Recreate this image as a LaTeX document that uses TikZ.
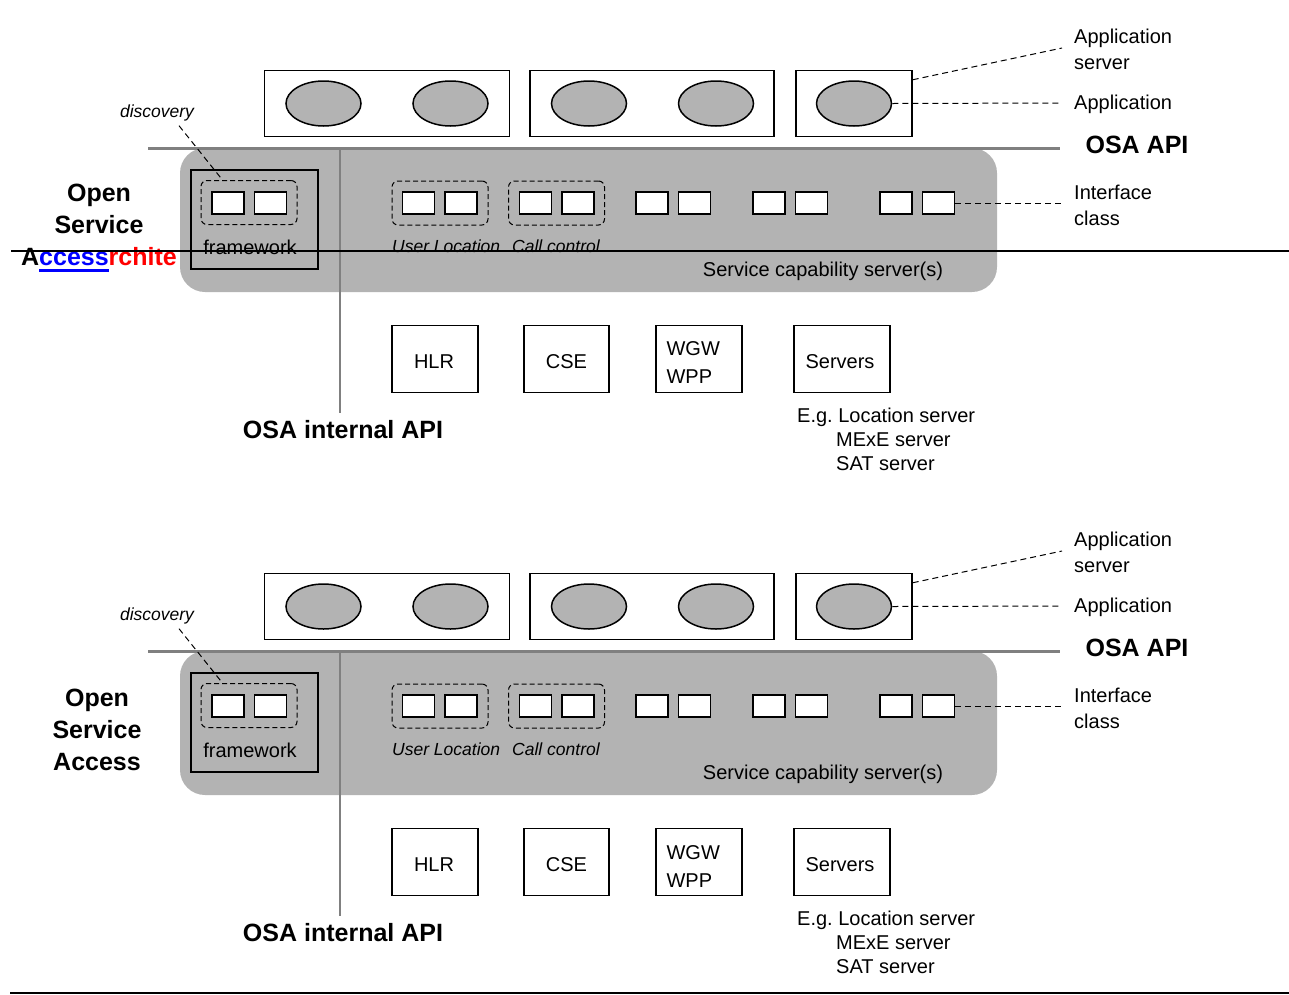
\documentclass[tikz,border=0pt]{standalone}
\usepackage{fontspec}
\setmainfont{Liberation Sans}
\usepackage{xcolor}
\usepackage{tikz}
\usetikzlibrary{shapes.geometric, positioning, calc}
\definecolor{scsgrey}{HTML}{B3B3B3}
\definecolor{apigrey}{HTML}{808080}
\newcommand{\txtnorm}{\fontsize{20}{26}\selectfont}
\newcommand{\txtbold}{\fontsize{25}{32}\selectfont\bfseries}
\newcommand{\txtital}{\fontsize{17.5}{21}\selectfont\itshape}
\newsavebox{\insbox}
\newcommand{\insmark}[1]{\sbox{\insbox}{#1}\rlap{\rule[-6pt]{\wd\insbox}{3pt}}\usebox{\insbox}}
\frenchspacing

\begin{document}
\begin{tikzpicture}[x=1pt, y=-1pt,
    appbox/.style={rectangle, draw=black, line width=1.5pt, minimum height=66pt, inner sep=0pt},
    appl/.style={ellipse, draw=black, line width=1.5pt, fill=scsgrey, minimum width=75pt, minimum height=45pt, inner sep=0pt},
    panel/.style={rectangle, rounded corners=25pt, fill=scsgrey, minimum width=817pt, minimum height=144pt, inner sep=0pt},
    ifc/.style={rectangle, draw=black, line width=1.5pt, fill=white, minimum width=32pt, minimum height=22pt, inner sep=0pt},
    grp/.style={rectangle, rounded corners=6pt, draw=black, line width=1pt, dash pattern=on 5pt off 3pt, minimum width=96pt, minimum height=44pt, inner sep=0pt},
    netbox/.style={rectangle, draw=black, line width=1.2pt, minimum height=67pt, inner sep=0pt, font=\txtnorm},
    boxtext/.style={font=\txtnorm, align=left, inner sep=0pt},
    lbl/.style={font=\txtnorm, align=left, anchor=west, inner sep=0pt},
    bigl/.style={font=\txtbold, align=center, inner sep=0pt},
    itl/.style={font=\txtital, anchor=west, inner sep=0pt},
    dashline/.style={line width=1pt, dash pattern=on 6pt off 4pt},
    apiline/.style={apigrey, line width=3pt}
]
\useasboundingbox (0,0) rectangle (1289,994);

\foreach \dy/\k in {0/t, 503/b} {
\begin{scope}[shift={(0,\dy)}]
% application servers
\node (as1\k) at (387,103.5) [appbox, minimum width=245pt] {};
\node (as2\k) at (652,103.5) [appbox, minimum width=244pt] {};
\node (as3\k) at (854,103.5) [appbox, minimum width=116pt] {};
\node (ap1\k) at (323.5,103.5) [appl] {};
\node (ap2\k) at (450.5,103.5) [appl] {};
\node (ap3\k) at (589,103.5) [appl] {};
\node (ap4\k) at (716,103.5) [appl] {};
\node (ap5\k) at (854,103.5) [appl] {};

% service capability servers
\node (scs\k) at (588.5,220) [panel] {};
\draw[apiline] (148,148) -- (1060,148);
\draw[apigrey, line width=2.5pt] (340,148) -- (340,413);
\node (fw\k) at (254.5,219.5) [rectangle, draw=black, line width=1.2pt, minimum width=127pt, minimum height=99pt] {};
\node (fwgrp\k) at (249,202.5) [grp] {};
\node (fwa\k) at (228,203) [ifc] {};
\node (fwb\k) at (270.5,203) [ifc] {};
\node at (250,247) [font=\txtnorm] {framework};
\node (ulgrp\k) at (440,203) [grp] {};
\node (ula\k) at (418.5,203) [ifc] {};
\node (ulb\k) at (461,203) [ifc] {};
\node (ccgrp\k) at (556.5,203) [grp] {};
\node (cca\k) at (535.5,203) [ifc] {};
\node (ccb\k) at (578,203) [ifc] {};
\node (pr1a\k) at (652,203) [ifc] {};
\node (pr1b\k) at (694.5,203) [ifc] {};
\node (pr2a\k) at (769,203) [ifc] {};
\node (pr2b\k) at (811.5,203) [ifc] {};
\node (pr3a\k) at (896,203) [ifc] {};
\node (pr3b\k) at (938.5,203) [ifc] {};
\node (ul\k) at (392,246) [itl] {User Location};
\node (cc\k) at (512,246) [itl] {Call control};
\node at (823,271) [font=\txtnorm] {Service capability server(s)};
\node (disc\k) at (157,113) [font=\txtital] {discovery};
\draw[dashline] ($(disc\k.south)+(22,1)$) -- ($(fwgrp\k.north west)+(22,0)$);

% labels on the right
\coordinate (asend\k) at (1062,48);
\coordinate (apend\k) at (1062,103);
\coordinate (ifend\k) at (1062,203);
\draw[dashline] ($(as3\k.north east)+(0,10)$) -- (asend\k);
\draw[dashline] (ap5\k.east) -- (apend\k);
\draw[dashline] (pr3b\k.east) -- (ifend\k);
\node at (1074,49) [lbl] {Application\\server};
\node at (1074,104) [lbl] {Application};
\node at (1074,205) [lbl] {Interface\\class};
\node at (1137,145) [bigl] {OSA API};

% network elements
\node (hlr\k) at (435,359) [netbox, minimum width=86pt] {};
\node (cse\k) at (566.5,359) [netbox, minimum width=85pt] {};
\node (wgw\k) at (699,359) [netbox, minimum width=86pt] {};
\node (srv\k) at (842,359) [netbox, minimum width=96pt] {};
\node at ($(hlr\k)+(-1,3)$) [boxtext] {HLR};
\node at ($(cse\k)+(0,3)$) [boxtext] {CSE};
\node at ($(wgw\k.west)+(11,4)$) [boxtext, anchor=west, execute at begin node={\baselineskip=28pt}] {WGW\\WPP};
\node at ($(srv\k)+(-2,3)$) [boxtext] {Servers};
\node at (797,439) [lbl, execute at begin node={\baselineskip=24pt}] {E.g. Location server\\\hspace*{39pt}MExE server\\\hspace*{39pt}SAT server};
\node at (343,430) [bigl] {OSA internal API};
\end{scope}
}

\node (osat) at (99,228) [bigl] {Open\\Service\\A\textcolor{blue}{\insmark{ccess}}\textcolor{red}{rchite}};
\node (osab) at (97,730) [bigl] {Open\\Service\\Access};
\draw[line width=1.5pt] (11,251) -- (1289,251);
\draw[line width=2pt] (10,993) -- (1289,993);
\end{tikzpicture}
\end{document}
